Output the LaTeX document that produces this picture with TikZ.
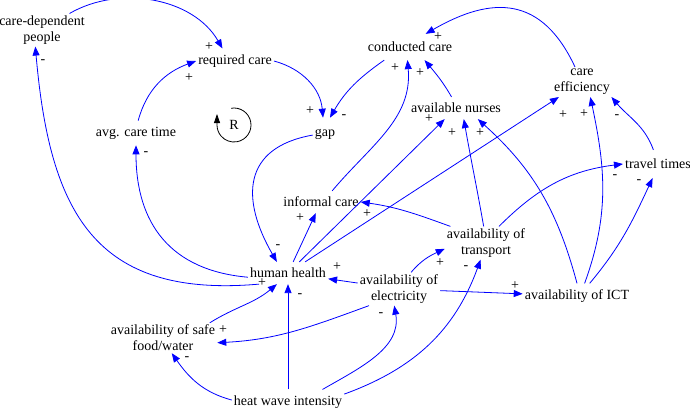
\documentclass[tikz,border=0pt]{standalone}
\usepackage{fontspec}
\setmainfont{Liberation Serif}
\usetikzlibrary{arrows.meta}
\tikzstyle{var} = [align=center, inner xsep=2pt, inner ysep=6pt, font=\fontsize{14}{16}\selectfont]
\tikzstyle{vartwo} = [var, inner ysep=2pt]
\tikzstyle{pol} = [inner sep=0pt, font=\fontsize{14}{14}\selectfont]
\tikzstyle{arrow} = [blue, line width=0.8pt, -{Triangle[length=9pt,width=7pt]}]
\tikzstyle{looparrow} = [black, line width=0.8pt, -{Triangle[length=9pt,width=6pt]}]

\begin{document}
\begin{tikzpicture}[x=1pt, y=1pt]
\useasboundingbox (0,-410) rectangle (690,0);

  % variables
  \node[vartwo] (cdp) at (42,-30) {care-dependent\\people};
  \node[var] (req) at (235,-61) {required care};
  \node[var] (act) at (136,-133) {avg. care time};
  \node[var, inner ysep=8pt] (cc) at (410,-47) {conducted care};
  \node[var, inner ysep=11pt] (gap) at (325,-134) {gap};
  \node[var] (avn) at (456,-108) {available nurses};
  \node[vartwo] (ceff) at (582,-82) {care\\efficiency};
  \node[var, inner ysep=9pt] (tt) at (658,-164) {travel times};
  \node[var] (inf) at (321,-202) {informal care};
  \node[vartwo] (tra) at (486,-243) {availability of\\transport};
  \node[var] (hh) at (288,-273) {human health};
  \node[vartwo] (ele) at (399,-289) {availability of\\electricity};
  \node[var] (ict) at (577,-296) {availability of ICT};
  \node[vartwo] (food) at (163,-338) {availability of safe\\food/water};
  \node[var] (hw) at (288,-402) {heat wave intensity};

  % loop marker
  \node[var] (R) at (234,-125) {R};
  \draw[looparrow] ([shift={(100:17)}]R.center) arc[start angle=100, end angle=-180, radius=17] -- ++(0,11);

  % links
  \draw[arrow] (cdp.31) to[out=30, in=120, looseness=0.95] (req.135);
  \draw[arrow] (hh.201) to[out=185, in=-85, looseness=1.3] (cdp.248);
  \draw[arrow] (hh.186) to[out=175, in=-90, looseness=1.15] (act.-90);
  \draw[arrow] (act.80) to[out=75, in=200] (req.180);
  \draw[arrow] (req.east) to[out=-15, in=95] (gap.97);
  \draw[arrow] (cc.207) to[out=215, in=60] (gap.73);
  \draw[arrow] (gap.185) to[out=190, in=120, looseness=1.4] (hh.135);
  \draw[arrow] (inf.45) to[out=50, in=-85] (cc.259);
  \draw[arrow] (avn.112) to[out=120, in=-50] (cc.-42);
  \draw[arrow] (ceff.115) to[out=115, in=30, looseness=1.3] (cc.40);
  \draw[arrow] (hh) -- (inf);
  \draw[arrow] (tra.155) to[out=160, in=-8] (inf.east);
  \draw[arrow] (hh) -- (avn);
  \draw[arrow] (hh) -- (ceff);
  \draw[arrow] (tra.98) to[out=100, in=-80] (avn.-55);
  \draw[arrow] (ict.north) to[out=105, in=-42] (avn.-27);
  \draw[arrow] (ict.59) to[out=70, in=-78] (ceff.-61);
  \draw[arrow] (tt.108) to[out=110, in=-50] (ceff.-27);
  \draw[arrow] (tra.52) to[out=45, in=187] (tt.west);
  \draw[arrow] (ict.45) to[out=50, in=-115] (tt.249);
  \draw[arrow] (ele) -- (hh);
  \draw[arrow] (ele.54) to[out=50, in=205] (tra.188);
  \draw[arrow] (ele) -- (ict);
  \draw[arrow] (ele.209) to[out=200, in=3] (food.-5);
  \draw[arrow] (hw.178) to[out=165, in=-55] (food.-60);
  \draw[arrow] (hw) -- (hh);
  \draw[arrow] (hw.20) to[out=30, in=-80] (ele.254);
  \draw[arrow] (hw.8) to[out=20, in=-110] (tra.252);
  \draw[arrow] (food.18) to[out=32, in=-140] (hh.225);

  % polarities
  \node[pol] (s1) at (209,-47) {+};
  \node[pol] (s2) at (189,-78) {+};
  \node[pol] (s3) at (43,-62) {-};
  \node[pol] (s4) at (146,-154) {-};
  \node[pol] (s5) at (310,-111) {+};
  \node[pol] (s6) at (344,-117) {-};
  \node[pol] (s7) at (395,-68) {+};
  \node[pol] (s8) at (420,-73) {+};
  \node[pol] (s9) at (438,-37) {+};
  \node[pol] (s10) at (429,-119) {+};
  \node[pol] (s11) at (452,-133) {+};
  \node[pol] (s12) at (480,-133) {+};
  \node[pol] (s13) at (563,-115) {+};
  \node[pol] (s14) at (584,-114) {+};
  \node[pol] (s15) at (617,-117) {-};
  \node[pol] (s16) at (615,-177) {-};
  \node[pol] (s17) at (639,-182) {-};
  \node[pol] (s18) at (300,-218) {+};
  \node[pol] (s19) at (367,-214) {+};
  \node[pol] (s20) at (278,-247) {-};
  \node[pol] (s21) at (337,-267) {+};
  \node[pol] (s22) at (300,-296) {-};
  \node[pol] (s23) at (262,-283) {+};
  \node[pol] (s24) at (440,-263) {+};
  \node[pol] (s25) at (466,-268) {-};
  \node[pol] (s26) at (515,-286) {+};
  \node[pol] (s27) at (381,-315) {-};
  \node[pol] (s28) at (223,-330) {+};
  \node[pol] (s29) at (187,-359) {-};

\end{tikzpicture}
\end{document}
